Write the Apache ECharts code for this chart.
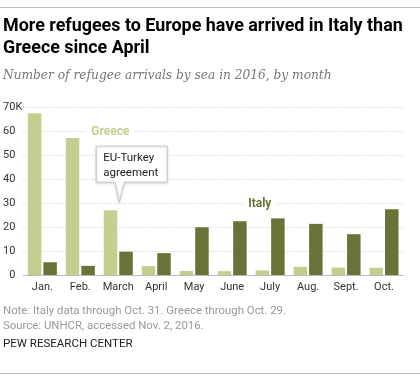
<!DOCTYPE html>
<html><head><meta charset="utf-8">
<script src="https://cdn.jsdelivr.net/npm/echarts@6/dist/echarts.min.js"></script>
<style>html,body{margin:0;padding:0;background:#fff}#c{width:420px;height:381px}</style>
</head><body><div id="c"></div>
<script>
const months = ['Jan.','Feb.','March','April','May','June','July','Aug.','Sept.','Oct.'];
const greece = [67.4, 57.1, 27.0, 3.7, 1.7, 1.6, 1.9, 3.4, 3.1, 3.0];
const italy = [5.3, 3.8, 9.7, 9.1, 19.9, 22.4, 23.6, 21.3, 17.0, 27.4];
const yTicks = [0, 10, 20, 30, 40, 50, 60, 70];
const title = 'More refugees to Europe have arrived in Italy than\nGreece since April';
const subtitle = 'Number of refugee arrivals by sea in 2016, by month';
const note = 'Note: Italy data through Oct. 31. Greece through Oct. 29.\nSource: UNHCR, accessed Nov. 2, 2016.';
const credit = 'PEW RESEARCH CENTER';
const callout = 'EU-Turkey\nagreement';

const cGreece = '#c4ce8f', cItaly = '#6b7239';
const sans = 'Roboto, "Liberation Sans", sans-serif';
const chart = echarts.init(document.getElementById('c'), null, {renderer:'canvas'});
chart.setOption({
  animation:false,
  backgroundColor:'#fff',
  grid:{left:23, right:17, top:107, bottom:106, containLabel:false},
  xAxis:{type:'category', data:months,
    axisLine:{lineStyle:{color:'#bbb', width:1}}, axisTick:{show:false},
    axisLabel:{color:'#333', fontFamily:sans, fontSize:11, margin:7, interval:0}},
  yAxis:{type:'value', min:0, max:70, interval:10,
    axisLine:{show:false}, axisTick:{show:false},
    axisLabel:{color:'#333', fontFamily:sans, fontSize:11, margin:8, formatter:v=>String(v)},
    splitLine:{lineStyle:{color:'#c8c8c8', type:[1,2], width:1}}},
  series:[
    {name:'Greece', type:'bar', data:greece, barWidth:13.5, barGap:'15%', itemStyle:{color:cGreece}},
    {name:'Italy', type:'bar', data:italy, barWidth:13.5, barGap:'15%', itemStyle:{color:cItaly}}
  ]
});
const top70 = chart.convertToPixel({yAxisIndex:0}, 70);
const tipPt = chart.convertToPixel({seriesIndex:0}, ['March', greece[2]]);
const gPt = chart.convertToPixel({xAxisIndex:0, yAxisIndex:0}, ['Feb.', 60]);
const iPt = chart.convertToPixel({xAxisIndex:0, yAxisIndex:0}, ['June', 30]);
const tx = tipPt[0]+1, ty = tipPt[1]-8;
const bx0 = tx-23, bx1 = tx+48, by0 = ty-56, by1 = ty-20;
chart.setOption({graphic:[
  {type:'line', shape:{x1:0,y1:7.5,x2:420,y2:7.5}, style:{stroke:'#bbb', lineWidth:1}},
  {type:'text', left:3, top:16, style:{text:title, font:'bold 17.9px '+sans, fill:'#000', lineHeight:22}},
  {type:'text', left:3, top:70, style:{text:subtitle, font:'italic 12.2px "DejaVu Serif", serif', fill:'#777'}},
  {type:'text', x:15.5, y:top70, style:{text:'K', font:'11px '+sans, fill:'#333', verticalAlign:'middle'}},
  {type:'text', x:gPt[0]+6, y:gPt[1]+1, style:{text:'Greece', font:'bold 12px '+sans, fill:'#c4ce8f', backgroundColor:'#fff', padding:[0,5], verticalAlign:'middle'}},
  {type:'text', x:iPt[0]+11, y:iPt[1]+1, style:{text:'Italy', font:'bold 12px '+sans, fill:'#6b7239', backgroundColor:'#fff', padding:[0,5], verticalAlign:'middle'}},
  {type:'polygon', shape:{points:[[bx0,by0],[bx1,by0],[bx1,by1],[tx+5,by1],[tx,ty],[tx-4,by1],[bx0,by1]]},
    style:{fill:'#fff', stroke:'#c8c8c8', lineWidth:1, shadowBlur:3, shadowColor:'rgba(0,0,0,0.15)', shadowOffsetY:1}},
  {type:'text', x:bx0+7, y:by0+4, style:{text:callout, font:'11.5px '+sans, fill:'#222', lineHeight:15}},
  {type:'text', left:3, top:304, style:{text:note, font:'11.4px '+sans, fill:'#999', lineHeight:15}},
  {type:'text', left:3, top:338, style:{text:credit, font:'11.5px '+sans, fill:'#222'}},
  {type:'line', shape:{x1:0,y1:373.5,x2:420,y2:373.5}, style:{stroke:'#bbb', lineWidth:1}}
]});
</script></body></html>
